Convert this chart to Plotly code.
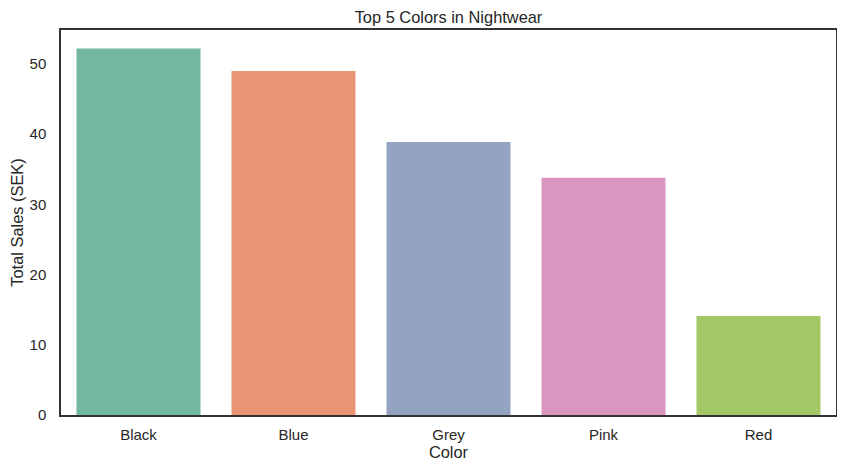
import plotly.graph_objects as go

categories = ["Black", "Blue", "Grey", "Pink", "Red"]
sales = [52.2, 49.0, 38.9, 33.8, 14.1]
bar_colors = ["#71b7a1", "#e99575", "#95a3c3", "#db96c0", "#a2c764"]

fig = go.Figure(go.Bar(
    x=categories, y=sales, marker=dict(color=bar_colors, line=dict(width=0)),
    width=0.8,
))

# page body has an 8px default margin, so the figure is sized to fit the window
W, H = 837, 465
font = "Liberation Sans, Arial, sans-serif"
fig.update_layout(
    width=W, height=H,
    margin=dict(l=53, r=9, t=22, b=58, autoexpand=False),
    paper_bgcolor="white", plot_bgcolor="white",
    font=dict(family=font, size=15, color="#262626"),
    title=dict(text="Top 5 Colors in Nightwear", x=0.5, xref="paper", xanchor="center",
               y=1 - 9 / H, yref="container", yanchor="middle", automargin=False,
               font=dict(size=16.4, color="#262626")),
    showlegend=False,
)
fig.update_xaxes(
    range=[-0.5, 4.5], showline=True, linecolor="#333333", linewidth=1.5, mirror=True,
    ticks="", showgrid=False, automargin=False,
    title=dict(text="Color", font=dict(size=16.4), standoff=5),
    tickfont=dict(size=15), ticklabelstandoff=5,
)
fig.update_yaxes(
    range=[0, 54.84], showline=True, linecolor="#333333", linewidth=1.5, mirror=True,
    ticks="", showgrid=False, zeroline=False, tickvals=[0, 10, 20, 30, 40, 50],
    automargin=False,
    title=dict(text="Total Sales (SEK)", font=dict(size=16.4), standoff=9),
    tickfont=dict(size=15), ticklabelstandoff=10,
)
fig.write_html("out.html")
